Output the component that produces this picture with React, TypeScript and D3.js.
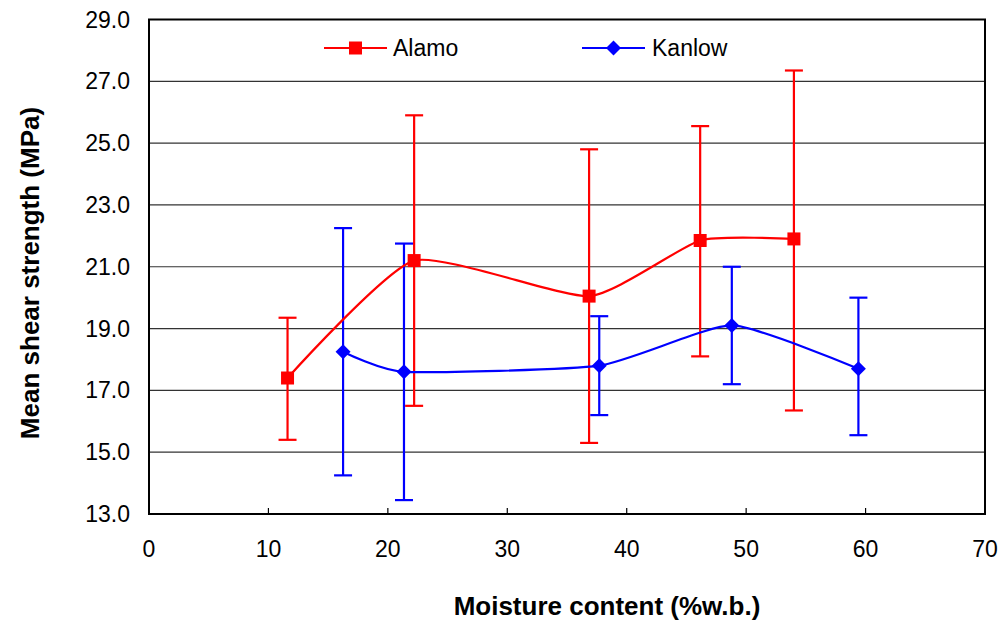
import React from 'react';
import * as d3 from 'd3';

// Alamo switchgrass: moisture content (% w.b.), mean shear strength and error bar limits (MPa)
const alamoX = [11.6, 22.2, 36.85, 46.15, 54.0];
const alamoMean = [17.4, 21.2, 20.05, 21.85, 21.9];
const alamoHigh = [19.35, 25.9, 24.8, 25.55, 27.35];
const alamoLow = [15.4, 16.5, 15.3, 18.1, 16.35];

// Kanlow switchgrass
const kanlowX = [16.25, 21.35, 37.7, 48.8, 59.4];
const kanlowMean = [18.25, 17.6, 17.8, 19.1, 17.7];
const kanlowHigh = [22.25, 21.75, 19.4, 21.0, 20.0];
const kanlowLow = [14.25, 13.45, 16.2, 17.2, 15.55];

const xTicks = [0, 10, 20, 30, 40, 50, 60, 70];
const yTicks = [13, 15, 17, 19, 21, 23, 25, 27, 29];

const W = 1003;
const H = 625;
const FONT = '"Liberation Sans", Arial, sans-serif';

const x = d3.scaleLinear().domain([0, 70]).range([149, 985]);
const y = d3.scaleLinear().domain([13, 29]).range([514, 19.5]);

type Pt = { x: number; m: number; hi: number; lo: number };

const build = (xs: number[], m: number[], hi: number[], lo: number[]): Pt[] =>
  xs.map((v, i) => ({ x: v, m: m[i], hi: hi[i], lo: lo[i] }));

const alamo = build(alamoX, alamoMean, alamoHigh, alamoLow);
const kanlow = build(kanlowX, kanlowMean, kanlowHigh, kanlowLow);

const smooth = d3
  .line<Pt>()
  .x((d) => x(d.x))
  .y((d) => y(d.m))
  .curve(d3.curveCardinal.tension(0.45));

const squarePath = (cx: number, cy: number, s: number) =>
  `M${cx - s / 2},${cy - s / 2}h${s}v${s}h${-s}Z`;
const diamondPath = (cx: number, cy: number, r: number) =>
  `M${cx},${cy - r}L${cx + r},${cy}L${cx},${cy + r}L${cx - r},${cy}Z`;

function ErrorBars({ data, color }: { data: Pt[]; color: string }) {
  const cap = 9;
  return (
    <g stroke={color} strokeWidth={2.2} fill="none">
      {data.map((d, i) => (
        <g key={i}>
          <line x1={x(d.x)} x2={x(d.x)} y1={y(d.hi)} y2={y(d.lo)} />
          <line x1={x(d.x) - cap} x2={x(d.x) + cap} y1={y(d.hi)} y2={y(d.hi)} />
          <line x1={x(d.x) - cap} x2={x(d.x) + cap} y1={y(d.lo)} y2={y(d.lo)} />
        </g>
      ))}
    </g>
  );
}

export default function App() {
  const [x0, x1] = x.range();
  const [y0, y1] = y.range();
  return (
    <svg
      width={W}
      height={H}
      viewBox={`0 0 ${W} ${H}`}
      style={{ position: 'fixed', left: 0, top: 0, background: '#fff' }}
      fontFamily={FONT}
    >
      <rect x={0} y={0} width={W} height={H} fill="#fff" />

      {/* horizontal gridlines */}
      {yTicks
        .filter((t) => t > 13 && t < 29)
        .map((t) => (
          <line key={t} x1={x0} x2={x1} y1={y(t)} y2={y(t)} stroke="#333" strokeWidth={1.2} />
        ))}

      {/* x ticks pointing inward */}
      {xTicks
        .filter((t) => t > 0 && t < 70)
        .map((t) => (
          <line key={t} x1={x(t)} x2={x(t)} y1={y0} y2={y0 - 6} stroke="#000" strokeWidth={1.2} />
        ))}

      {/* plot frame */}
      <rect x={x0} y={y1} width={x1 - x0} height={y0 - y1} fill="none" stroke="#000" strokeWidth={2} />

      {/* y tick labels */}
      {yTicks.map((t) => (
        <text
          key={t}
          x={130}
          y={y(t)}
          dy="0.35em"
          textAnchor="end"
          fontSize={23}
          fill="#000"
        >
          {t.toFixed(1)}
        </text>
      ))}

      {/* x tick labels */}
      {xTicks.map((t) => (
        <text key={t} x={x(t)} y={557} textAnchor="middle" fontSize={23} fill="#000">
          {t}
        </text>
      ))}

      {/* axis titles */}
      <text
        x={607}
        y={615}
        textAnchor="middle"
        fontSize={26}
        fontWeight="bold"
        fill="#000"
      >
        Moisture content (%w.b.)
      </text>
      <text
        transform={`translate(39,${273}) rotate(-90)`}
        textAnchor="middle"
        fontSize={26}
        fontWeight="bold"
        fill="#000"
      >
        Mean shear strength (MPa)
      </text>

      {/* error bars */}
      <ErrorBars data={alamo} color="#ff0000" />
      <ErrorBars data={kanlow} color="#0000ff" />

      {/* smoothed series lines */}
      <path d={smooth(alamo) ?? ''} fill="none" stroke="#ff0000" strokeWidth={2.2} />
      <path d={smooth(kanlow) ?? ''} fill="none" stroke="#0000ff" strokeWidth={2.2} />

      {/* markers */}
      {alamo.map((d, i) => (
        <path key={i} d={squarePath(x(d.x), y(d.m), 13)} fill="#ff0000" />
      ))}
      {kanlow.map((d, i) => (
        <path key={i} d={diamondPath(x(d.x), y(d.m), 7.5)} fill="#0000ff" />
      ))}

      {/* legend */}
      <g>
        <line x1={324} x2={387} y1={48} y2={48} stroke="#ff0000" strokeWidth={2.2} />
        <path d={squarePath(355.5, 48, 13)} fill="#ff0000" />
        <text x={393} y={48} dy="0.35em" fontSize={23} fill="#000">
          Alamo
        </text>
        <line x1={582} x2={645} y1={48} y2={48} stroke="#0000ff" strokeWidth={2.2} />
        <path d={diamondPath(613.5, 48, 7.5)} fill="#0000ff" />
        <text x={652} y={48} dy="0.35em" fontSize={23} fill="#000">
          Kanlow
        </text>
      </g>
    </svg>
  );
}
